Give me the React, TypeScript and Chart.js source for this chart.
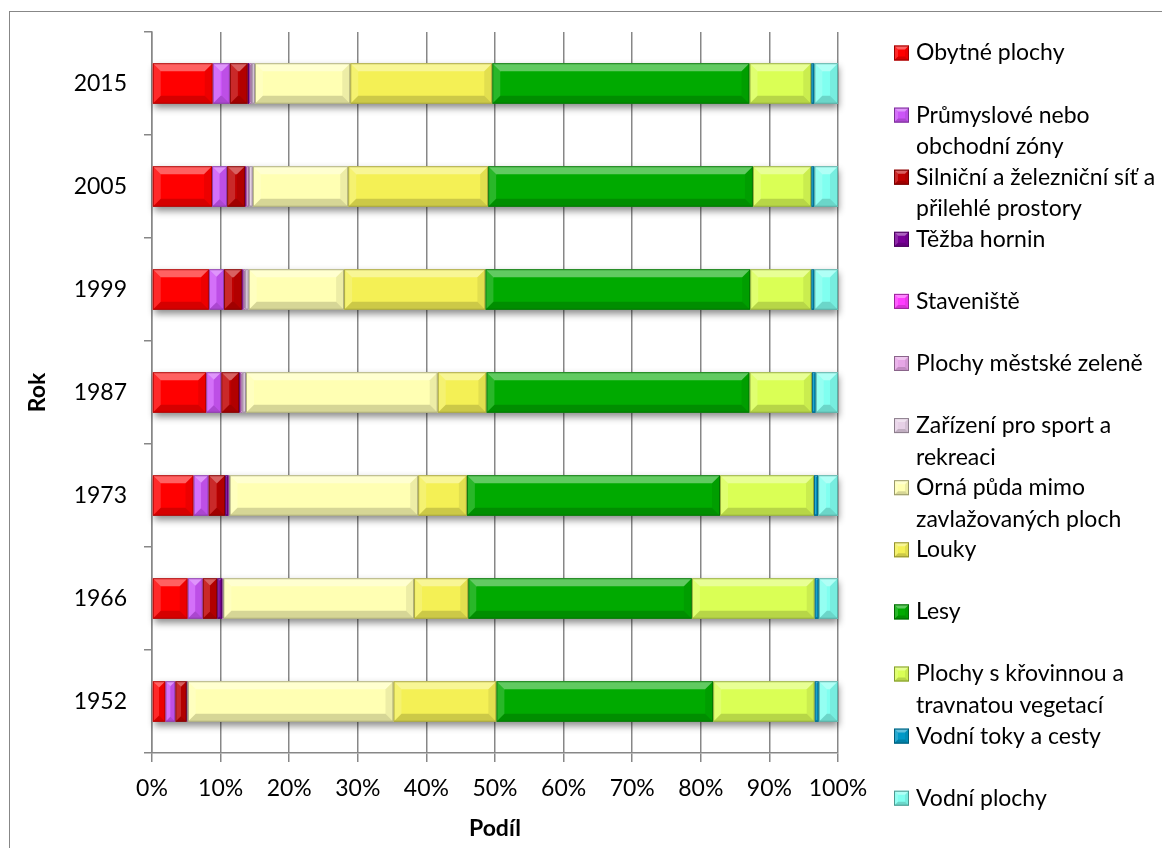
import { useEffect, useRef } from 'react';
import { Chart, registerables } from 'chart.js';

Chart.register(...registerables);

// Categories (bottom to top on the chart; axis is reversed)
const years = ['1952', '1966', '1973', '1987', '1999', '2005', '2015'];

const seriesNames = [
  'Obytné plochy',
  'Průmyslové nebo obchodní zóny',
  'Silniční a železniční síť a přilehlé prostory',
  'Těžba hornin',
  'Staveniště',
  'Plochy městské zeleně',
  'Zařízení pro sport a rekreaci',
  'Orná půda mimo zavlažovaných ploch',
  'Louky',
  'Lesy',
  'Plochy s křovinnou a travnatou vegetací',
  'Vodní toky a cesty',
  'Vodní plochy',
];

const seriesColors = [
  '#FF0000',
  '#CC55F8',
  '#C00000',
  '#7A0099',
  '#FF3DFF',
  '#E6A6E6',
  '#E6D0E6',
  '#FFFFB3',
  '#F4F055',
  '#00AA00',
  '#DAFF55',
  '#0099C8',
  '#80FFF0',
];

// Share of land use in % (1952, 1966, 1973, 1987, 1999, 2005, 2015)
const obytnePlochy = [1.95, 5.2, 6.05, 7.9, 8.3, 8.75, 8.85];
const prumysloveZony = [1.45, 2.2, 2.2, 2.2, 2.2, 2.2, 2.5];
const silnicniSit = [1.65, 2.1, 2.4, 2.6, 2.6, 2.6, 2.6];
const tezbaHornin = [0.05, 0.7, 0.5, 0.1, 0.1, 0.1, 0.2];
const staveniste = [0.02, 0.05, 0.05, 0.1, 0.1, 0.1, 0.1];
const mestskaZelen = [0.03, 0.1, 0.05, 0.3, 0.3, 0.4, 0.3];
const sportRekreace = [0.05, 0.05, 0.05, 0.5, 0.5, 0.55, 0.45];
const ornaPuda = [30.0, 27.8, 27.5, 27.95, 13.9, 13.9, 13.9];
const louky = [15.0, 7.9, 7.1, 7.1, 20.6, 20.4, 20.7];
const lesy = [31.6, 32.6, 36.9, 38.35, 38.6, 38.6, 37.5];
const krovinyTravy = [14.8, 17.9, 13.7, 9.1, 8.9, 8.5, 9.0];
const vodniToky = [0.6, 0.6, 0.6, 0.55, 0.45, 0.45, 0.45];
const vodniPlochy = [2.8, 2.8, 2.9, 3.25, 3.45, 3.45, 3.45];

const seriesValues = [
  obytnePlochy,
  prumysloveZony,
  silnicniSit,
  tezbaHornin,
  staveniste,
  mestskaZelen,
  sportRekreace,
  ornaPuda,
  louky,
  lesy,
  krovinyTravy,
  vodniToky,
  vodniPlochy,
];

const xTickLabels = ['0%', '10%', '20%', '30%', '40%', '50%', '60%', '70%', '80%', '90%', '100%'];

const FONT_FAMILY = 'Lato, "Open Sans", sans-serif';
const FONT_SIZE = 23;
const AXIS_GRAY = '#878787';

function shade(hex: string, f: number): string {
  const n = parseInt(hex.slice(1), 16);
  const r = Math.round(((n >> 16) & 255) * f);
  const g = Math.round(((n >> 8) & 255) * f);
  const b = Math.round((n & 255) * f);
  return `rgb(${r},${g},${b})`;
}

function bevel(ctx: CanvasRenderingContext2D, l: number, t: number, w: number, h: number, depth: number) {
  const r = l + w;
  const b = t + h;
  const d = Math.min(depth, w / 2, h / 2);
  if (d < 1) return;
  const poly = (pts: number[][], fill: string) => {
    ctx.beginPath();
    ctx.moveTo(pts[0][0], pts[0][1]);
    for (let i = 1; i < pts.length; i++) ctx.lineTo(pts[i][0], pts[i][1]);
    ctx.closePath();
    ctx.fillStyle = fill;
    ctx.fill();
  };
  poly([[l, t], [r, t], [r - d, t + d], [l + d, t + d]], 'rgba(255,255,255,0.38)');
  poly([[l, t], [l + d, t + d], [l + d, b - d], [l, b]], 'rgba(255,255,255,0.16)');
  poly([[r, t], [r, b], [r - d, b - d], [r - d, t + d]], 'rgba(0,0,0,0.07)');
  poly([[l, b], [l + d, b - d], [r - d, b - d], [r, b]], 'rgba(0,0,0,0.16)');
}

function barBox(el: any) {
  const p = el.getProps(['x', 'y', 'base', 'height'], true);
  const l = Math.min(p.x, p.base);
  const r = Math.max(p.x, p.base);
  return { l, r, t: p.y - p.height / 2, b: p.y + p.height / 2 };
}

// Soft drop shadow under each whole stacked bar
const barShadowPlugin = {
  id: 'barShadow',
  beforeDatasetsDraw(chart: any) {
    const ctx = chart.ctx as CanvasRenderingContext2D;
    const metas = chart.getSortedVisibleDatasetMetas();
    const n = chart.data.labels.length;
    for (let i = 0; i < n; i++) {
      let l = Infinity;
      let r = -Infinity;
      let t = 0;
      let b = 0;
      metas.forEach((m: any) => {
        const el = m.data[i];
        if (!el) return;
        const box = barBox(el);
        l = Math.min(l, box.l);
        r = Math.max(r, box.r);
        t = box.t;
        b = box.b;
      });
      ctx.save();
      ctx.shadowColor = 'rgba(0,0,0,0.45)';
      ctx.shadowBlur = 7;
      ctx.shadowOffsetX = 1;
      ctx.shadowOffsetY = 4;
      ctx.fillStyle = '#ffffff';
      ctx.fillRect(l, t, r - l, b - t);
      ctx.restore();
    }
  },
};

// Bevelled faces and thin outlines on every bar segment
const barBevelPlugin = {
  id: 'barBevel',
  afterDatasetsDraw(chart: any) {
    const ctx = chart.ctx as CanvasRenderingContext2D;
    chart.getSortedVisibleDatasetMetas().forEach((m: any) => {
      const color = chart.data.datasets[m.index].backgroundColor as string;
      m.data.forEach((el: any) => {
        const { l, r, t, b } = barBox(el);
        const w = r - l;
        if (w <= 0) return;
        ctx.save();
        bevel(ctx, l, t, w, b - t, 8);
        ctx.strokeStyle = shade(color, 0.62);
        ctx.globalAlpha = 0.8;
        ctx.lineWidth = 1;
        ctx.strokeRect(l + 0.5, t + 0.5, Math.max(w - 1, 0), b - t - 1);
        ctx.restore();
      });
    });
  },
};

function wrapText(ctx: CanvasRenderingContext2D, text: string, maxWidth: number): string[] {
  const words = text.split(' ');
  const lines: string[] = [];
  let cur = '';
  words.forEach((w) => {
    const test = cur ? cur + ' ' + w : w;
    if (cur && ctx.measureText(test).width > maxWidth) {
      lines.push(cur);
      cur = w;
    } else {
      cur = test;
    }
  });
  if (cur) lines.push(cur);
  return lines;
}

// Legend on the right, one slot per series, long names wrapped
const sideLegendPlugin = {
  id: 'sideLegend',
  afterDraw(chart: any) {
    const ctx = chart.ctx as CanvasRenderingContext2D;
    const markerX = 886;
    const textX = 908;
    const firstY = 45;
    const step = 62.1;
    const lineGap = 31.5;
    const size = 15;
    ctx.save();
    ctx.font = `${FONT_SIZE}px ${FONT_FAMILY}`;
    ctx.textBaseline = 'middle';
    ctx.textAlign = 'left';
    chart.data.datasets.forEach((ds: any, i: number) => {
      const cy = firstY + i * step;
      const color = ds.backgroundColor as string;
      const top = cy - size / 2;
      ctx.fillStyle = color;
      ctx.fillRect(markerX, top, size, size);
      bevel(ctx, markerX, top, size, size, 4);
      ctx.strokeStyle = shade(color, 0.6);
      ctx.lineWidth = 1;
      ctx.strokeRect(markerX + 0.5, top + 0.5, size - 1, size - 1);
      ctx.fillStyle = '#000000';
      const lines = wrapText(ctx, ds.label, chart.width - textX - 1);
      lines.forEach((ln, k) => ctx.fillText(ln, textX, cy + k * lineGap));
    });
    ctx.restore();
  },
};

export default function App() {
  const canvasRef = useRef<HTMLCanvasElement | null>(null);

  useEffect(() => {
    const canvas = canvasRef.current;
    if (!canvas) return;
    const tickFont = { family: FONT_FAMILY, size: FONT_SIZE };
    const titleFont = { family: FONT_FAMILY, size: FONT_SIZE, weight: 'bold' as const, lineHeight: 1.0 };

    const chart = new Chart(canvas, {
      type: 'bar',
      data: {
        labels: years,
        datasets: seriesNames.map((name, i) => ({
          label: name,
          data: seriesValues[i],
          backgroundColor: seriesColors[i],
          borderWidth: 0,
          barPercentage: 0.394,
          categoryPercentage: 1,
        })),
      },
      options: {
        indexAxis: 'y',
        responsive: false,
        animation: false,
        layout: { padding: { top: 24, right: 332, left: 0, bottom: 0 } },
        plugins: {
          legend: { display: false },
          tooltip: { enabled: false },
        },
        scales: {
          x: {
            stacked: true,
            min: 0,
            max: 100,
            ticks: {
              stepSize: 10,
              font: tickFont,
              color: '#000000',
              padding: 13,
              maxRotation: 0,
              callback: (_v: any, idx: number) => xTickLabels[idx],
            },
            grid: { color: AXIS_GRAY, lineWidth: 1.5, tickLength: 9, drawTicks: true },
            border: { color: AXIS_GRAY, width: 1.5 },
            title: { display: true, text: 'Podíl', font: titleFont, color: '#000000', padding: { top: 0, bottom: 8 } },
            afterFit: (s: any) => {
              s.height = 95;
            },
          },
          y: {
            stacked: true,
            reverse: true,
            ticks: { font: tickFont, color: '#000000', padding: 17 },
            grid: { display: true, drawOnChartArea: false, offset: true, tickLength: 8, color: AXIS_GRAY, lineWidth: 1.5 },
            border: { color: AXIS_GRAY, width: 1.5 },
            title: { display: true, text: 'Rok', font: titleFont, color: '#000000', padding: { top: 18, bottom: 0 } },
            afterFit: (s: any) => {
              s.width = 144;
              s.paddingTop = 0;
              s.paddingBottom = 0;
            },
          },
        },
      },
      plugins: [barShadowPlugin, barBevelPlugin, sideLegendPlugin],
    });

    return () => chart.destroy();
  }, []);

  return (
    <div style={{ position: 'relative', width: 1162, height: 840, overflow: 'hidden', background: '#ffffff' }}>
      <style>{'html, body { overflow: hidden; }'}</style>
      <div
        style={{
          position: 'absolute',
          left: 1,
          top: 3,
          width: 1400,
          height: 1000,
          border: `1px solid ${AXIS_GRAY}`,
        }}
      />
      <canvas
        ref={canvasRef}
        width={1162}
        height={840}
        style={{ position: 'absolute', left: 0, top: 0, width: 1162, height: 840 }}
      />
    </div>
  );
}
